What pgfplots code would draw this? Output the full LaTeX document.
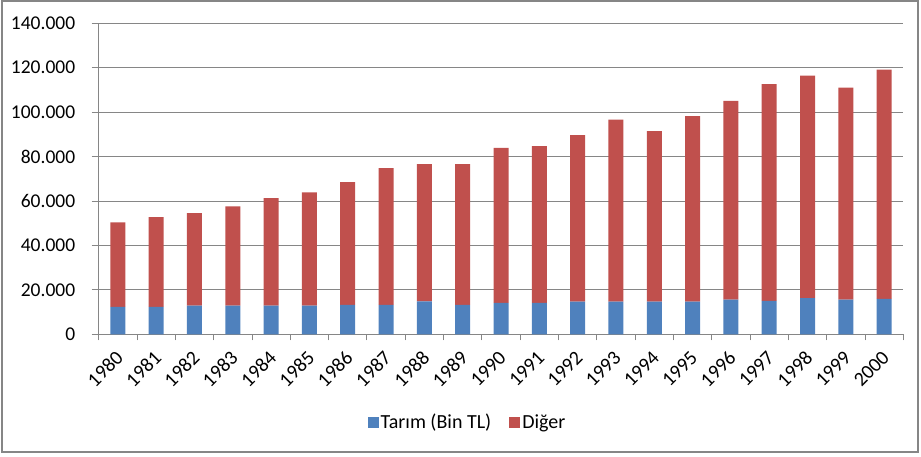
\documentclass[border=0pt]{standalone}
\usepackage{pgfplots}
\pgfplotsset{compat=1.18}
\usepackage{pgfplotstable}
\usepackage{fontspec}
\setmainfont{Carlito}
\definecolor{tarim}{HTML}{4F81BD}
\definecolor{diger}{HTML}{C0504D}
\definecolor{gridgray}{HTML}{868686}

\pgfplotstableread{
year tarim diger
1980 12400 38000
1981 12400 40400
1982 12900 41700
1983 12900 44700
1984 12900 48400
1985 12900 51000
1986 13300 55200
1987 13300 61500
1988 14850 61750
1989 13300 63300
1990 14100 69800
1991 14100 70600
1992 14700 75000
1993 14700 81900
1994 14700 76800
1995 14700 83500
1996 15600 89500
1997 15000 97600
1998 16300 100200
1999 15600 95500
2000 15900 103200
}\datatable

\begin{document}
\begin{tikzpicture}
\useasboundingbox (-98.7pt,-121.7pt) rectangle (822.3pt,334.3pt);
\draw[gridgray, line width=1.5pt] (-96.7pt,-117.7pt) rectangle (819.3pt,333.3pt);
\begin{axis}[
  at={(0pt,0pt)}, anchor=south west,
  scale only axis, width=804.6pt, height=311pt,
  ybar stacked, bar width=15pt,
  ymin=0, ymax=140000, ytick={0,20000,40000,60000,80000,100000,120000,140000},
  yticklabels={0,20.000,40.000,60.000,80.000,100.000,120.000,140.000},
  xmin=1979.5, xmax=2000.5,
  xtick={1980,1981,1982,1983,1984,1985,1986,1987,1988,1989,1990,1991,1992,1993,1994,1995,1996,1997,1998,1999,2000},
  xticklabels={1980,1981,1982,1983,1984,1985,1986,1987,1988,1989,1990,1991,1992,1993,1994,1995,1996,1997,1998,1999,2000},
  minor xtick={1979.5,1980.5,...,2000.5},
  scaled y ticks=false,
  axis x line*=bottom, axis y line*=left,
  axis line style={gridgray, line width=0.9pt},
  every tick/.style={gridgray, line width=0.9pt},
  tick align=outside,
  x tick style={draw=none},
  minor x tick style={draw=gridgray},
  minor tick length=6pt, major tick length=7pt,
  ymajorgrids, grid style={gridgray, line width=0.9pt},
  every tick label/.append style={text=black},
  yticklabel style={font=\fontsize{19.5}{24}\selectfont, xshift=-13pt},
  xticklabel style={font=\fontsize{20}{24}\selectfont, anchor=center,
    xshift=-12.8pt, yshift=-27.7pt, rotate=45},
  legend style={at={(0.4584,-0.282)}, anchor=center, draw=none,
    font=\fontsize{20}{24}\selectfont, text=black,
    /tikz/every even column/.append style={column sep=16pt}},
  legend columns=2,
]
\addplot[fill=tarim, draw=none,
  legend image code/.code={\fill[tarim] (0pt,-5.5pt) rectangle (11pt,5.5pt);}]
  table[x=year, y=tarim] {\datatable};
\addplot[fill=diger, draw=none,
  legend image code/.code={\fill[diger] (0pt,-5.5pt) rectangle (11pt,5.5pt);}]
  table[x=year, y=diger] {\datatable};
\legend{Tarım (Bin TL), Diğer}
\end{axis}
\end{tikzpicture}
\end{document}
